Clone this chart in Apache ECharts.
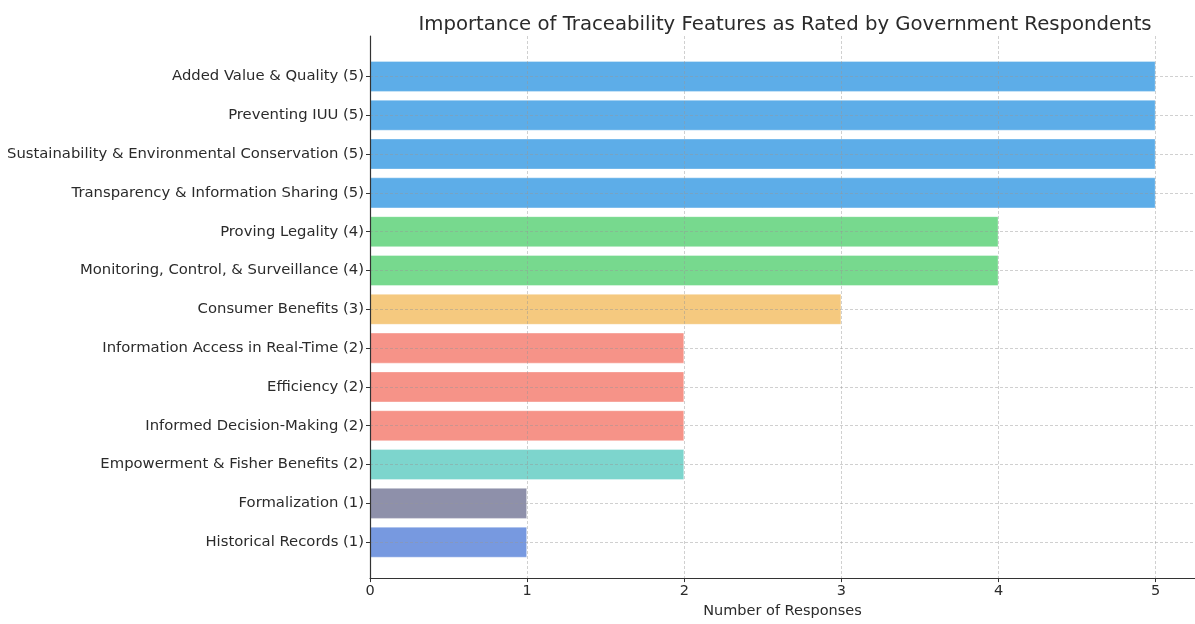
<!DOCTYPE html>
<html>
<head>
<meta charset="utf-8">
<script src="https://cdn.jsdelivr.net/npm/echarts@6/dist/echarts.min.js"></script>
<style>
  html, body { margin: 0; padding: 0; background: #fff; }
  #chart { width: 1195px; height: 624px; }
</style>
</head>
<body>
<div id="chart"></div>
<script>
// categories top to bottom
const features = [
  'Added Value & Quality (5)',
  'Preventing IUU (5)',
  'Sustainability & Environmental Conservation (5)',
  'Transparency & Information Sharing (5)',
  'Proving Legality (4)',
  'Monitoring, Control, & Surveillance (4)',
  'Consumer Benefits (3)',
  'Information Access in Real-Time (2)',
  'Efficiency (2)',
  'Informed Decision-Making (2)',
  'Empowerment & Fisher Benefits (2)',
  'Formalization (1)',
  'Historical Records (1)'
]
const responses = [5, 5, 5, 5, 4, 4, 3, 2, 2, 2, 2, 1, 1]
const xTicks = [0, 1, 2, 3, 4, 5]

// bar colours, one per bar
const barColors = [
  '#5dade8', '#5dade8', '#5dade8', '#5dade8',
  '#77d98e', '#77d98e',
  '#f5c97f',
  '#f69388', '#f69388', '#f69388',
  '#7dd5cd',
  '#8e90aa',
  '#7799e0'
]

const font = 'DejaVu Sans'
const textColor = '#2b2b2b'
const xMax = 5.25
const gridLine = { color: 'rgba(150,150,150,0.45)', type: [3, 2], width: 1 }

let myChart = echarts.init(document.getElementById('chart'))

const option = {
  animation: false,
  title: {
    text: 'Importance of Traceability Features as Rated by Government Respondents',
    left: 780,
    textAlign: 'center',
    top: 10,
    textStyle: { fontFamily: font, fontSize: 19.7, fontWeight: 'normal', color: textColor }
  },
  grid: [
    // bars
    { left: 370, width: 826, top: 57, height: 504.6 },
    // frame: spines, x ticks, vertical grid
    { left: 370, width: 826, top: 36, bottom: 42 },
    // horizontal grid lines at bar centres
    { left: 370, width: 826, top: 76.4, height: 465.6 }
  ],
  xAxis: [
    { gridIndex: 0, type: 'value', min: 0, max: xMax, show: false },
    {
      gridIndex: 1, type: 'value', min: 0, max: xMax, interval: 1, z: 5,
      name: 'Number of Responses',
      nameLocation: 'middle',
      nameGap: 22,
      nameTextStyle: { fontFamily: font, fontSize: 14.5, color: textColor },
      axisLine: { show: true, lineStyle: { color: '#333', width: 1.2 } },
      axisTick: { show: true, length: 4, lineStyle: { color: '#333' } },
      axisLabel: {
        margin: 6, fontFamily: font, fontSize: 14.5, color: textColor,
        showMaxLabel: false,
        formatter: v => (xTicks.includes(v) ? String(v) : '')
      },
      splitLine: { show: true, showMinLine: false, lineStyle: gridLine }
    },
    { gridIndex: 2, type: 'value', min: 0, max: xMax, show: false }
  ],
  yAxis: [
    {
      gridIndex: 0, type: 'category', data: features, inverse: true,
      axisLine: { show: false },
      axisTick: { show: true, alignWithLabel: true, length: 4, lineStyle: { color: '#333' } },
      axisLabel: { margin: 6, fontFamily: font, fontSize: 14.8, color: textColor },
      splitLine: { show: false }
    },
    {
      gridIndex: 1, type: 'value', min: 0, max: 1, z: 6,
      axisLine: { show: true, lineStyle: { color: '#333', width: 1.2 } },
      axisTick: { show: false },
      axisLabel: { show: false },
      splitLine: { show: false }
    },
    {
      gridIndex: 2, type: 'category', data: features, inverse: true, boundaryGap: false, z: 5,
      axisLine: { show: false },
      axisTick: { show: false },
      axisLabel: { show: false },
      splitLine: { show: true, lineStyle: gridLine }
    }
  ],
  series: [
    {
      type: 'bar',
      xAxisIndex: 0,
      yAxisIndex: 0,
      barWidth: '80%',
      data: responses.map((v, i) => ({
        value: v,
        itemStyle: { color: barColors[i], borderColor: 'rgba(255,255,255,0.35)', borderWidth: 1 }
      }))
    }
  ]
}

myChart.setOption(option)
window.addEventListener('resize', function () {
  myChart.resize()
})
</script>
</body>
</html>
